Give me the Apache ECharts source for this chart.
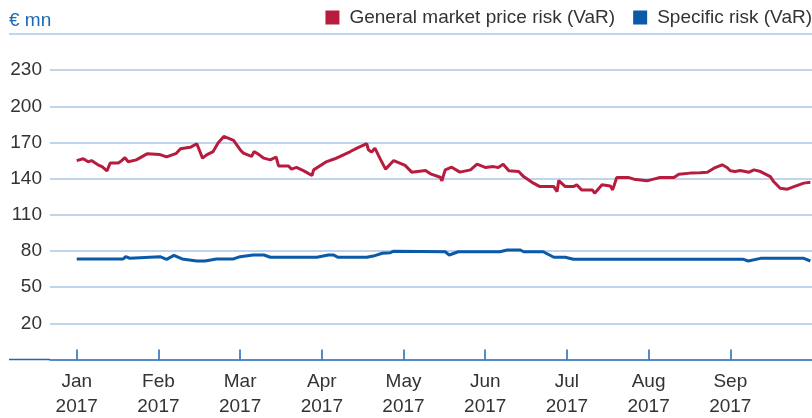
<!DOCTYPE html>
<html>
<head>
<meta charset="utf-8">
<script src="https://cdn.jsdelivr.net/npm/echarts@6/dist/echarts.min.js"></script>
<style>
  html, body { margin: 0; padding: 0; background: #fff; }
  #chart { width: 812px; height: 418px; }
</style>
</head>
<body>
<div id="chart"></div>
<script>
/* tick labels */
var monthLabels = ['Jan', 'Feb', 'Mar', 'Apr', 'May', 'Jun', 'Jul', 'Aug', 'Sep'];
var yearLabel = '2017';
var yTicks = [20, 50, 80, 110, 140, 170, 200, 230];

/* time in months since 1 Jan 2017 */
var genT = [0.00, 0.08, 0.14, 0.18, 0.26, 0.31, 0.37, 0.41, 0.51, 0.55, 0.59, 0.63, 0.73, 0.86,
  1.02, 1.10, 1.22, 1.27, 1.39, 1.47, 1.54, 1.59, 1.67, 1.73, 1.80, 1.92,
  2.00, 2.04, 2.14, 2.17, 2.22, 2.29, 2.37, 2.44, 2.47, 2.59, 2.63, 2.69, 2.78, 2.88, 2.90,
  3.06, 3.16, 3.35, 3.43, 3.55, 3.57, 3.61, 3.65, 3.71, 3.78, 3.88,
  4.02, 4.10, 4.27, 4.33, 4.45, 4.47, 4.51, 4.59, 4.69, 4.82, 4.90,
  5.00, 5.10, 5.16, 5.22, 5.29, 5.41, 5.47, 5.59, 5.67, 5.84, 5.88, 5.90, 5.98,
  6.08, 6.12, 6.18, 6.31, 6.34, 6.43, 6.53, 6.56, 6.61, 6.76, 6.82, 6.98,
  7.06, 7.14, 7.31, 7.37, 7.51, 7.63, 7.72, 7.80, 7.90, 7.96,
  8.00, 8.06, 8.12, 8.23, 8.29, 8.37, 8.49, 8.53, 8.61, 8.70, 8.78, 8.90, 8.98];
var genV = [155, 156.5, 154, 155, 151.5, 150, 146.5, 153, 153, 155, 157.5, 154, 155.6, 160.6,
  160, 158, 161, 164.8, 166, 169, 157, 159.8, 162.5, 169.5, 175, 171.7,
  164, 161.2, 158.4, 162.5, 160.4, 157, 155.6, 158, 150.6, 150.6, 147.9, 149.3, 146.5, 142.6, 147.3,
  154.2, 156.5, 162.5, 165.3, 169, 164, 162, 165.3, 157, 147.9, 155,
  151, 145.4, 146.7, 144, 141.2, 138.2, 147.3, 149.5, 145.4, 147.3, 152,
  149.3, 150, 149.3, 152, 146.5, 145.9, 141.7, 136.3, 133.4, 133.4, 129.3, 138.4, 133.4,
  133.4, 134.9, 130.7, 130.7, 128, 134.9, 134, 130.7, 140.9, 140.9, 139.6, 138.2,
  139.6, 140.9, 140.9, 143.7, 144.6, 145, 145.4, 148.7, 151.5, 149.3,
  146.5, 145.9, 146.7, 145.4, 147.3, 145.9, 141.7, 137.6, 132.1, 131.3, 133.4, 136.3, 137];

var specT = [0.00, 0.57, 0.60, 0.65, 1.02, 1.10, 1.19, 1.29, 1.47, 1.57, 1.71, 1.92,
  2.00, 2.16, 2.29, 2.37, 2.94, 3.08, 3.14, 3.20, 3.55, 3.63, 3.74, 3.84, 3.88,
  4.51, 4.56, 4.67, 5.18, 5.27, 5.43, 5.47, 5.71, 5.84, 5.98, 6.08,
  8.16, 8.22, 8.37, 8.90, 8.98];
var specV = [73.4, 73.4, 75.3, 74, 75.3, 73.1, 76.4, 73.4, 71.7, 71.7, 73.4, 73.4,
  75.3, 76.7, 76.7, 74.8, 74.8, 76.7, 76.7, 74.8, 74.8, 75.8, 78.1, 78.6, 79.8,
  79.4, 76.7, 79.4, 79.4, 80.8, 80.8, 79.4, 79.4, 74.8, 74.8, 73.1,
  73.1, 71.7, 73.9, 73.9, 71.7];

var font = "'Liberation Sans', Arial, sans-serif";
var gridColor = '#a9c7e7';
var axisBlue = '#1f66b3';

function pairs(t, v) {
  return t.map(function (x, i) { return [x, v[i]]; });
}

var chart = echarts.init(document.getElementById('chart'));

chart.setOption({
  animation: false,
  textStyle: { fontFamily: font },
  grid: {
    left: 50, right: 0, top: 34, bottom: 58.5,
    containLabel: false,
    outerBoundsMode: 'none'
  },
  legend: {
    right: 0,
    top: 8,
    padding: 0,
    icon: 'rect',
    itemWidth: 14,
    itemHeight: 14,
    itemGap: 18,
    textStyle: { fontFamily: font, fontSize: 19, color: '#333', padding: [0, 0, 0, 5] },
    data: ['General market price risk (VaR)', 'Specific risk (VaR)']
  },
  xAxis: {
    type: 'value',
    min: -0.327,
    max: 9,
    axisLine: { show: true, onZero: false, lineStyle: { color: axisBlue, width: 1.5 } },
    axisTick: {
      show: true, inside: true, length: 10,
      customValues: [0, 1, 2, 3, 4, 5, 6, 7, 8],
      lineStyle: { color: axisBlue, width: 1.5 }
    },
    axisLabel: {
      customValues: [0, 1, 2, 3, 4, 5, 6, 7, 8],
      formatter: function (v) { return monthLabels[Math.round(v)] + '\n' + yearLabel; },
      fontFamily: font,
      fontSize: 19,
      color: '#333',
      lineHeight: 25,
      margin: 10
    },
    splitLine: { show: false }
  },
  yAxis: {
    type: 'value',
    min: -10,
    max: 260,
    axisLine: { show: false },
    axisTick: { show: false, customValues: yTicks },
    axisLabel: {
      customValues: yTicks,
      fontFamily: font,
      fontSize: 19,
      color: '#333',
      margin: 8
    },
    splitLine: { show: true, lineStyle: { color: gridColor, width: 1.5 } }
  },
  graphic: [
    { type: 'line', shape: { x1: 9, y1: 34, x2: 812, y2: 34 }, style: { stroke: gridColor, lineWidth: 1.5 } },
    { type: 'line', shape: { x1: 9, y1: 359.5, x2: 50, y2: 359.5 }, style: { stroke: axisBlue, lineWidth: 1.5 } },
    { type: 'text', left: 9, top: 11, style: { text: '€ mn', fill: '#1b6ab7', font: '19px ' + font } }
  ],
  series: [
    {
      name: 'General market price risk (VaR)',
      type: 'line',
      data: pairs(genT, genV),
      showSymbol: false,
      color: '#b71c3f',
      lineStyle: { width: 3, color: '#b71c3f' }
    },
    {
      name: 'Specific risk (VaR)',
      type: 'line',
      data: pairs(specT, specV),
      showSymbol: false,
      color: '#0a5aa8',
      lineStyle: { width: 3, color: '#0a5aa8' }
    }
  ]
});
</script>
</body>
</html>
